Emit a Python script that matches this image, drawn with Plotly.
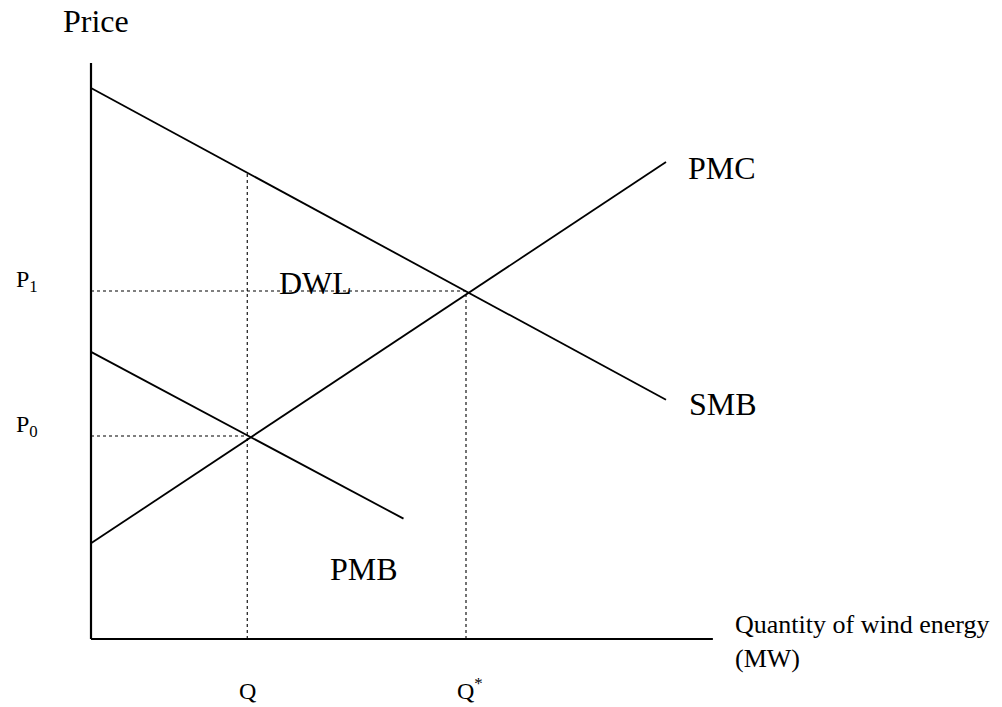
import plotly.graph_objects as go

# ---- data (economic units) ----
Q_low = 5.0          # Q
Q_star = 12.0        # Q*
P0 = 7.0
P1 = 12.0

smb_x = [0, 18.4]
smb_y = [19.0, 8.25]
pmc_x = [0, 18.4]
pmc_y = [3.3, 16.45]
pmb_x = [0, 10.0]
pmb_y = [9.9, 4.15]

x_axis_end = 19.9
y_axis_end = 19.86

curve_labels = ["PMC", "SMB", "PMB", "DWL"]

# ---- pixel mapping of the plot area ----
W, H = 1002, 707
ox, oy = 91, 639          # origin in pixels
sx, sy = 31.25, 29.0      # pixels per unit
xr = [-ox / sx, (W - ox) / sx]
yr = [-(H - oy) / sy, oy / sy]

FONT = "Liberation Serif, Times New Roman, serif"

fig = go.Figure()

def line(x, y, width=1.8, dash=None, color="black"):
    fig.add_trace(go.Scatter(x=x, y=y, mode="lines",
                             line=dict(color=color, width=width, dash=dash),
                             hoverinfo="skip", showlegend=False))

# axes
line([0, 0], [0, y_axis_end], width=2.2)
line([0, x_axis_end], [0, 0], width=2.2)

# curves
line(smb_x, smb_y)
line(pmc_x, pmc_y)
line(pmb_x, pmb_y)

# SMB at Q
smb_at_q = smb_y[0] + (smb_y[1] - smb_y[0]) / (smb_x[1] - smb_x[0]) * Q_low

# dotted guides
line([Q_low, Q_low], [0, smb_at_q], width=1.1, dash="dot")
line([Q_star, Q_star], [0, P1], width=1.1, dash="dot")
line([0, Q_star], [P1, P1], width=1.1, dash="dot")
line([0, Q_low], [P0, P0], width=1.1, dash="dot")

def label(text, x, y, size, xanchor="left", yanchor="middle", xshift=0, yshift=0, align="left"):
    fig.add_annotation(x=x, y=y, text=text, showarrow=False, xanchor=xanchor,
                       yanchor=yanchor, xshift=xshift, yshift=yshift, align=align,
                       font=dict(family=FONT, size=size, color="black"))

label("Price", 0, y_axis_end, 32, xshift=-30, yshift=42)
label("P<sub>1</sub>", 0, P1, 24, xshift=-77, yshift=10)
label("P<sub>0</sub>", 0, P0, 24, xshift=-77, yshift=10)
label(curve_labels[0], pmc_x[1], pmc_y[1], 32, xshift=20, yshift=-6)
label(curve_labels[1], smb_x[1], smb_y[1], 32, xshift=21, yshift=-4)
label(curve_labels[2], pmb_x[1], pmb_y[1], 32, xshift=-76, yshift=-50)
label(curve_labels[3], Q_low, P1, 32, xshift=30, yshift=8)
label("Q", Q_low, 0, 24, xanchor="center", yshift=-52)
label("Q<sup>*</sup>", Q_star, 0, 24, xanchor="center", yshift=-50, xshift=4)
label("Quantity of wind energy<br>(MW)", x_axis_end, 0, 26, xshift=20, yshift=-2)

fig.update_layout(
    width=W, height=H, autosize=False,
    margin=dict(l=0, r=0, t=0, b=0, pad=0),
    paper_bgcolor="white", plot_bgcolor="white",
    xaxis=dict(range=xr, visible=False, fixedrange=True),
    yaxis=dict(range=yr, visible=False, fixedrange=True),
)

fig.write_html("out.html", config={"displayModeBar": False},
               post_script="document.body.style.margin='0';")
